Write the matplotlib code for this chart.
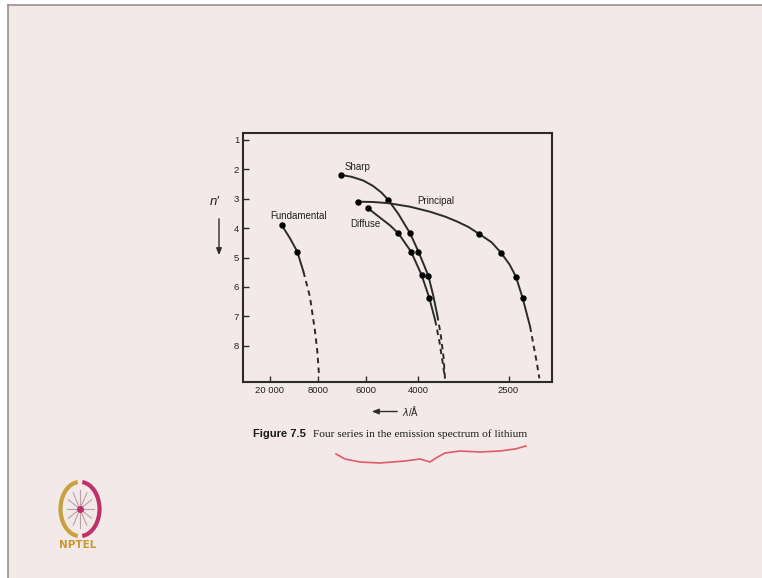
"""Four series in the emission spectrum of lithium (Figure 7.5, NPTEL slide)"""

import math
import matplotlib
matplotlib.use('Agg')
import matplotlib.pyplot as plt
from matplotlib.patches import Arc, FancyArrowPatch

# x is a schematic axis (0..100 across the frame), y is n'
xtick_pos = [8.6, 24.3, 39.7, 56.8, 86.0]
xtick_labels = ['20 000', '8000', '6000', '4000', '2500']
ytick_vals = [1, 2, 3, 4, 5, 6, 7, 8]

# Sharp
sharp_x = [31.6, 35.0, 38.9, 42.0, 44.8, 47.0, 50.3, 54.1, 56.8, 60.0, 61.6, 62.9]
sharp_y = [2.19, 2.25, 2.38, 2.56, 2.79, 3.04, 3.52, 4.18, 4.80, 5.62, 6.30, 6.96]
sharp_dash_x = [62.9, 64.0, 64.9, 65.4]
sharp_dash_y = [6.96, 7.62, 8.36, 9.11]
sharp_pts_x = [31.6, 47.0, 54.1, 56.8, 60.0]
sharp_pts_y = [2.19, 3.04, 4.18, 4.80, 5.62]

# Diffuse
diffuse_x = [40.5, 44.3, 47.5, 50.3, 54.4, 57.8, 60.3, 62.2]
diffuse_y = [3.33, 3.64, 3.90, 4.18, 4.80, 5.59, 6.37, 7.13]
diffuse_dash_x = [62.2, 63.6, 64.6, 65.4]
diffuse_dash_y = [7.13, 7.86, 8.54, 9.11]
diffuse_pts_x = [40.5, 50.3, 54.4, 57.8, 60.3]
diffuse_pts_y = [3.33, 4.18, 4.80, 5.59, 6.37]

# Principal
principal_x = [37.3, 42.0, 47.0, 54.0, 60.5, 65.5, 69.2, 73.0, 76.5, 80.5, 83.5, 86.3, 88.4, 90.6, 93.0]
principal_y = [3.10, 3.11, 3.15, 3.27, 3.44, 3.61, 3.77, 3.96, 4.20, 4.48, 4.83, 5.23, 5.65, 6.39, 7.35]
principal_dash_x = [93.0, 94.1, 95.1, 96.0]
principal_dash_y = [7.35, 7.98, 8.54, 9.11]
principal_pts_x = [37.3, 76.5, 83.5, 88.4, 90.6]
principal_pts_y = [3.10, 4.20, 4.83, 5.65, 6.39]

# Fundamental
fund_x = [12.4, 15.0, 17.5, 19.5]
fund_y = [3.89, 4.32, 4.80, 5.48]
fund_dash_x = [19.5, 21.6, 23.2, 24.0, 24.6]
fund_dash_y = [5.48, 6.33, 7.47, 8.20, 9.06]
fund_pts_x = [12.4, 17.5]
fund_pts_y = [3.89, 4.80]

bg = '#f2e9e8'
ink = '#2b2b2b'

fig = plt.figure(figsize=(7.62, 5.78), dpi=100, facecolor=bg)

# slide frame (top and left edge)
fig.patches.append(plt.Rectangle((0, 0), 1, 1, transform=fig.transFigure,
                                 facecolor='white', edgecolor='none', zorder=-3))
fig.patches.append(plt.Rectangle((8 / 762, 0), 1, 1 - 5 / 578, transform=fig.transFigure,
                                 facecolor=bg, edgecolor='none', zorder=-2))
fig.lines.append(plt.Line2D([8 / 762, 1], [1 - 5 / 578] * 2, transform=fig.transFigure,
                            color='#9a9090', lw=1.2))
fig.lines.append(plt.Line2D([8 / 762] * 2, [0, 1 - 5 / 578], transform=fig.transFigure,
                            color='#9a9090', lw=1.2))

ax = fig.add_axes([243.3 / 762, 196.3 / 578, 308.4 / 762, 248.4 / 578])
ax.set_facecolor('none')

solid = dict(color=ink, lw=1.4, solid_capstyle='round', solid_joinstyle='round')
dashed = dict(color=ink, lw=1.4, ls=(0, (2.8, 2.2)))
dots = dict(ls='none', marker='o', ms=3.6, color='black')

for cx, cy, dx, dy, px, py in [
        (sharp_x, sharp_y, sharp_dash_x, sharp_dash_y, sharp_pts_x, sharp_pts_y),
        (diffuse_x, diffuse_y, diffuse_dash_x, diffuse_dash_y, diffuse_pts_x, diffuse_pts_y),
        (principal_x, principal_y, principal_dash_x, principal_dash_y, principal_pts_x, principal_pts_y),
        (fund_x, fund_y, fund_dash_x, fund_dash_y, fund_pts_x, fund_pts_y)]:
    ax.plot(cx, cy, **solid)
    ax.plot(dx, dy, **dashed)
    ax.plot(px, py, **dots)

lab = dict(fontsize=7, family='Liberation Sans', color='#222222', va='center', ha='left')
ax.text(32.7, 1.91, 'Sharp', **lab)
ax.text(56.3, 3.08, 'Principal', **lab)
ax.text(8.9, 3.58, 'Fundamental', **lab)
ax.text(34.6, 3.86, 'Diffuse', **lab)

ax.set_xlim(0, 100)
ax.set_ylim(9.225, 0.773)
ax.set_xticks(xtick_pos)
ax.set_xticklabels(xtick_labels)
ax.set_yticks(ytick_vals)
ax.tick_params(direction='in', length=4, width=1.0, color=ink, labelsize=6.8,
               labelcolor='#222222', pad=3)
for t in ax.get_xticklabels() + ax.get_yticklabels():
    t.set_family('Liberation Sans')
for s in ax.spines.values():
    s.set_linewidth(1.5)
    s.set_color(ink)

# n' with downward arrow
fig.text(215 / 762, 1 - 202 / 578, "n′", fontsize=9.5, style='italic',
         family='Liberation Sans', ha='center', va='center', color='#222222')
fig.patches.append(FancyArrowPatch(
    (219 / 762, 1 - 216 / 578), (219 / 762, 1 - 258 / 578), transform=fig.transFigure,
    arrowstyle='-|>,head_length=4,head_width=1.6', color=ink, lw=1.0))

# <- lambda/A
fig.patches.append(FancyArrowPatch(
    (400 / 762, 1 - 411.5 / 578), (369 / 762, 1 - 411.5 / 578), transform=fig.transFigure,
    arrowstyle='-|>,head_length=4,head_width=1.6', color=ink, lw=1.0))
fig.text(402 / 762, 1 - 411.5 / 578, r'$\lambda$/Å', fontsize=7, family='Liberation Sans',
         ha='left', va='center', color='#222222')

# caption
fig.text(253 / 762, 1 - 434 / 578, 'Figure 7.5', fontsize=8, weight='bold',
         family='Liberation Sans', ha='left', va='center', color='#1a1a1a')
fig.text(313 / 762, 1 - 434 / 578, 'Four series in the emission spectrum of lithium',
         fontsize=8.2, family='Liberation Serif', ha='left', va='center', color='#1a1a1a')

# red pen squiggle under the caption
sq_x = [336, 345, 360, 380, 405, 420, 430, 436, 445, 460, 480, 500, 515, 526]
sq_y = [454, 459, 462, 463, 461, 459, 462, 458, 453, 451, 452, 451, 449, 446]
fig.lines.append(plt.Line2D([v / 762 for v in sq_x], [1 - v / 578 for v in sq_y],
                            transform=fig.transFigure, color='#e05a6a', lw=1.2))

# NPTEL logo (rough)
lax = fig.add_axes([50 / 762, 1 - 540 / 578, 60 / 762, 62 / 578])
lax.set_xlim(-1, 1)
lax.set_ylim(-1, 1)
lax.axis('off')
lax.add_patch(Arc((0, 0), 1.3, 1.75, theta1=95, theta2=265, color='#c8a040', lw=3))
lax.add_patch(Arc((0, 0), 1.3, 1.75, theta1=-85, theta2=85, color='#c0306a', lw=3))
for ang in range(0, 180, 30):
    a = math.radians(ang)
    lax.plot([-0.45 * math.cos(a), 0.45 * math.cos(a)],
             [-0.6 * math.sin(a), 0.6 * math.sin(a)], color='#b8a0a8', lw=0.8)
lax.plot([0], [0], marker='o', ms=4, color='#c0306a')
fig.text(78 / 762, 1 - 545 / 578, 'NPTEL', fontsize=7.5, weight='bold',
         family='DejaVu Sans', color='#c89a30', ha='center', va='center')

fig.savefig('out.png', dpi=100, facecolor=bg)
